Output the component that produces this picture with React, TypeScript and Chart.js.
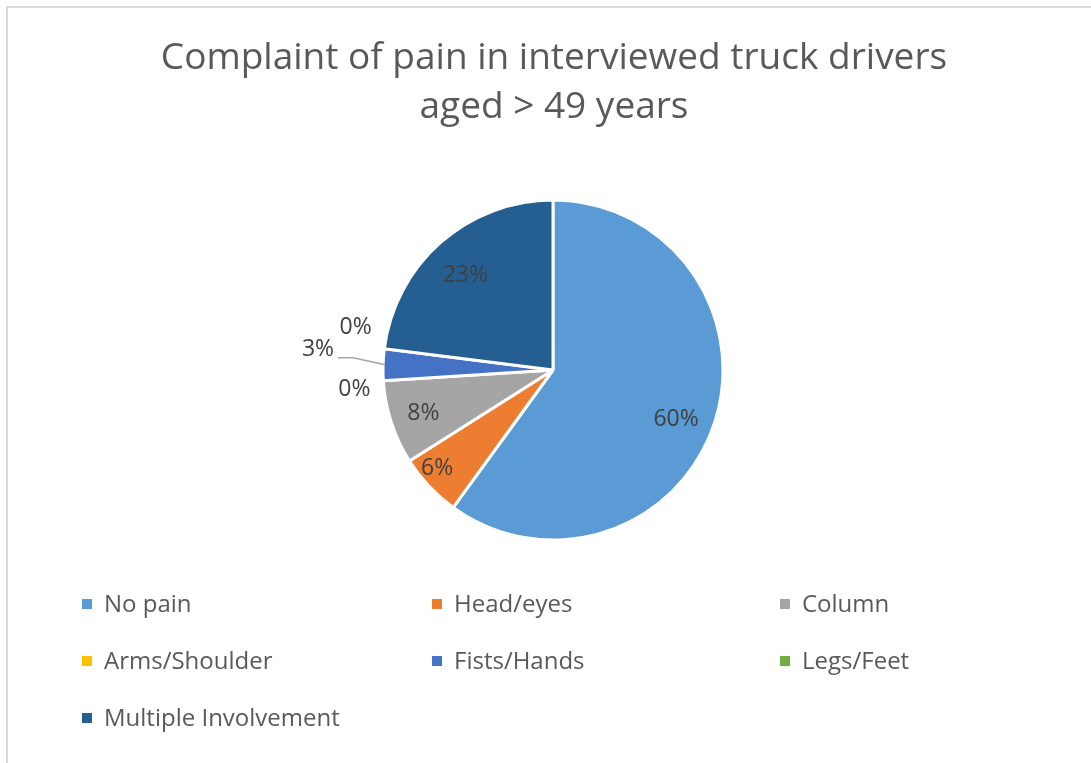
import React, { useEffect, useRef } from 'react';
import { Chart, registerables } from 'chart.js';

Chart.register(...registerables);

const titleLines = ['Complaint of pain in interviewed truck drivers', 'aged > 49 years'];
const categories = ['No pain', 'Head/eyes', 'Column', 'Arms/Shoulder', 'Fists/Hands', 'Legs/Feet', 'Multiple Involvement'];
const values = [60, 6, 8, 0, 3, 0, 23];
const colors = ['#5B9BD5', '#ED7D31', '#A5A5A5', '#FFC000', '#4472C4', '#70AD47', '#255E91'];

const FONT = '"Open Sans", "Noto Sans", sans-serif';

// label placement styling (radial factor, nudges) per slice index
const labelPlacement: Record<number, { f?: number; out?: boolean; leader?: boolean; dx?: number; dy?: number }> = {
  0: { f: 0.78, dx: -3, dy: 8 },
  1: { f: 0.87, dx: -8, dy: -3 },
  2: { f: 0.82, dx: 3 },
  3: { out: true, dx: 0, dy: 7 },
  4: { out: true, leader: true },
  5: { out: true, dx: 0, dy: -18 },
  6: { f: 0.78, dy: 5 },
};

const decorPlugin = {
  id: 'decor',
  beforeDraw(chart: any) {
    const ctx = chart.ctx;
    ctx.save();
    ctx.fillStyle = '#ffffff';
    ctx.fillRect(0, 0, chart.width, chart.height);
    ctx.strokeStyle = '#d9d9d9';
    ctx.lineWidth = 2;
    ctx.strokeRect(7, 7, chart.width + 20, chart.height + 20);
    // title
    ctx.fillStyle = '#595959';
    ctx.font = `37px ${FONT}`;
    ctx.textAlign = 'center';
    ctx.textBaseline = 'middle';
    ctx.fillText(titleLines[0], 554, 58);
    ctx.fillText(titleLines[1], 554, 107);
    ctx.restore();
  },
  afterDatasetsDraw(chart: any) {
    const ctx = chart.ctx;
    const meta = chart.getDatasetMeta(0);
    const data = chart.data.datasets[0].data as number[];
    ctx.save();
    ctx.font = `23px ${FONT}`;
    ctx.fillStyle = '#404040';
    ctx.textBaseline = 'middle';
    meta.data.forEach((arc: any, i: number) => {
      const p = arc.getProps(['x', 'y', 'startAngle', 'endAngle', 'outerRadius'], true);
      const mid = (p.startAngle + p.endAngle) / 2;
      const pl = labelPlacement[i] || { f: 0.78 };
      const text = `${data[i]}%`;
      if (!pl.out) {
        const r = p.outerRadius * (pl.f ?? 0.78);
        ctx.textAlign = 'center';
        ctx.fillText(text, p.x + Math.cos(mid) * r + (pl.dx || 0), p.y + Math.sin(mid) * r + (pl.dy || 0));
      } else if (pl.leader) {
        const ex = p.x + Math.cos(mid) * (p.outerRadius - 2);
        const ey = p.y + Math.sin(mid) * (p.outerRadius - 2);
        const bx = ex - 32;
        const by = ey - 7;
        const tx = bx - 15;
        ctx.strokeStyle = '#a6a6a6';
        ctx.lineWidth = 1.5;
        ctx.beginPath();
        ctx.moveTo(ex, ey);
        ctx.lineTo(bx, by);
        ctx.lineTo(tx, by);
        ctx.stroke();
        ctx.textAlign = 'right';
        ctx.fillText(text, tx - 4, by - 8);
      } else {
        const r = p.outerRadius + 29;
        ctx.textAlign = 'center';
        ctx.fillText(text, p.x + Math.cos(mid) * r + (pl.dx || 0), p.y + Math.sin(mid) * r + (pl.dy || 0));
      }
    });
    ctx.restore();
  },
  afterDraw(chart: any) {
    const ctx = chart.ctx;
    ctx.save();
    ctx.font = `24px ${FONT}`;
    ctx.fillStyle = '#595959';
    ctx.textAlign = 'left';
    ctx.textBaseline = 'middle';
    const colX = [82, 432, 780];
    const rowY = [604, 661, 718];
    categories.forEach((c, i) => {
      const col = i % 3;
      const row = Math.floor(i / 3);
      const x = colX[col];
      const y = rowY[row];
      ctx.fillStyle = colors[i];
      ctx.fillRect(x, y - 5, 10, 10);
      ctx.fillStyle = '#595959';
      ctx.fillText(c, x + 22, y + 1);
    });
    ctx.restore();
  },
};

export default function App() {
  const ref = useRef<HTMLCanvasElement>(null);
  useEffect(() => {
    if (!ref.current) return;
    const chart = new Chart(ref.current, {
      type: 'pie',
      data: {
        labels: categories,
        datasets: [
          {
            data: values,
            backgroundColor: colors,
            borderColor: '#ffffff',
            borderWidth: 3,
            radius: 170,
          } as any,
        ],
      },
      options: {
        responsive: false,
        animation: false,
        rotation: 0,
        layout: { padding: { left: 370, right: 355, top: 190, bottom: 213 } },
        plugins: {
          legend: { display: false },
          title: { display: false },
          tooltip: { enabled: false },
        },
      },
      plugins: [decorPlugin],
    });
    return () => chart.destroy();
  }, []);
  return (
    <div style={{ position: 'absolute', left: 0, top: 0, width: 1091, height: 763 }}>
      <canvas ref={ref} width={1091} height={763} style={{ display: 'block' }} />
    </div>
  );
}
